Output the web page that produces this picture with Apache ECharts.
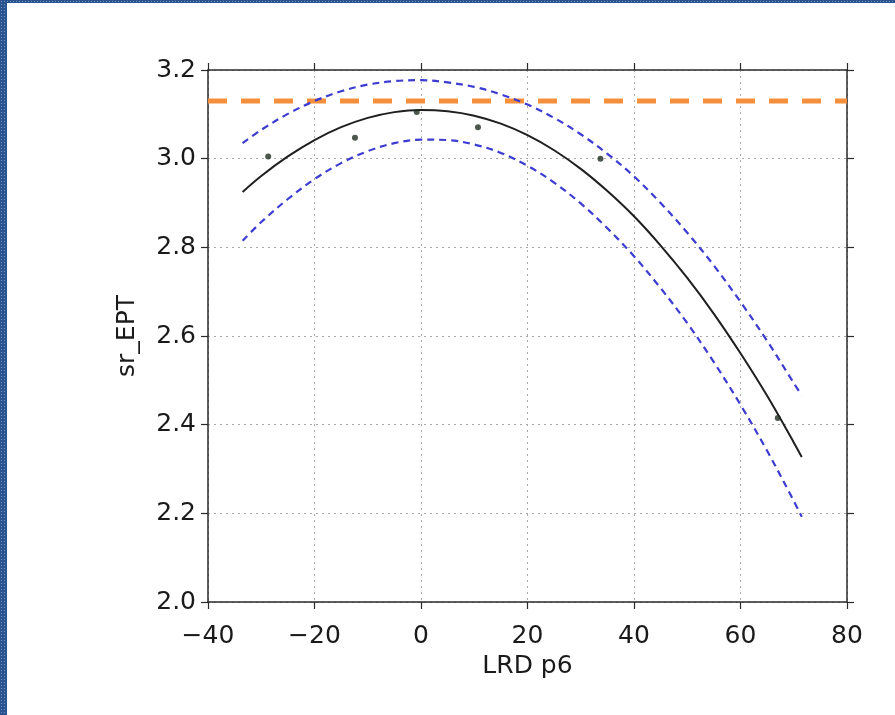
<!DOCTYPE html>
<html>
<head>
<meta charset="utf-8">
<script src="https://cdn.jsdelivr.net/npm/echarts@6/dist/echarts.min.js"></script>
<style>
  html, body { margin: 0; padding: 0; background: #fff; }
  #chart { position: absolute; left: 0; top: 0; width: 895px; height: 715px; }
  .bl { position: absolute; left: 0; top: 0; width: 7px; height: 715px;
        background: #2a5390;
        background-image: radial-gradient(#6f8fbf 0.6px, transparent 0.8px);
        background-size: 3px 3px; }
  .bt { position: absolute; left: 0; top: 0; width: 895px; height: 3px;
        background: #2a5390;
        background-image: radial-gradient(#6f8fbf 0.6px, transparent 0.8px);
        background-size: 3px 3px; }
</style>
</head>
<body>
<div id="chart"></div>
<div class="bl"></div>
<div class="bt"></div>
<script>
// ---- data ----
const curveX = [-33.5, -30, -25, -20, -15, -10, -5, 0, 5, 10, 15, 20, 25, 30, 35, 40, 45, 50, 55, 60, 65, 70, 71.5];
const fitY   = [2.925, 2.961, 3.005, 3.042, 3.071, 3.092, 3.105, 3.110, 3.107, 3.097, 3.079, 3.053, 3.019, 2.977, 2.927, 2.870, 2.804, 2.731, 2.650, 2.561, 2.465, 2.360, 2.327];
const upperY = [3.035, 3.065, 3.101, 3.130, 3.152, 3.167, 3.175, 3.177, 3.172, 3.162, 3.145, 3.122, 3.092, 3.055, 3.011, 2.960, 2.900, 2.833, 2.759, 2.677, 2.589, 2.494, 2.466];
const lowerY = [2.815, 2.857, 2.909, 2.954, 2.990, 3.017, 3.035, 3.043, 3.042, 3.032, 3.013, 2.984, 2.946, 2.899, 2.843, 2.780, 2.708, 2.629, 2.541, 2.445, 2.341, 2.228, 2.192];
const pointX = [-28.7, -12.4, -0.8, 10.7, 33.7, 67.0];
const pointY = [3.005, 3.047, 3.105, 3.071, 3.000, 2.415];
const refY = 3.13;
const xTicks = [-40, -20, 0, 20, 40, 60, 80];
const yTicks = [2.0, 2.2, 2.4, 2.6, 2.8, 3.0, 3.2];
const xName = 'LRD p6';
const yName = 'sr_EPT';

const zip = (a, b) => a.map((v, i) => [v, b[i]]);
const FONT = 'DejaVu Sans';
const AX = '#2a2a2a';

const chart = echarts.init(document.getElementById('chart'), null, { renderer: 'canvas' });

const baseX = {
  type: 'value', min: xTicks[0], max: xTicks[xTicks.length - 1], interval: 20,
  axisLine: { show: true, onZero: false, lineStyle: { color: AX, width: 1.5 } },
  axisTick: { show: true, inside: false, length: 7, lineStyle: { color: AX, width: 1.2 } },
  splitLine: { show: false }
};
const baseY = {
  type: 'value', min: yTicks[0], max: yTicks[yTicks.length - 1], interval: 0.2,
  axisLine: { show: true, onZero: false, lineStyle: { color: AX, width: 1.5 } },
  axisTick: { show: true, inside: false, length: 7, lineStyle: { color: AX, width: 1.2 } },
  splitLine: { show: false }
};

chart.setOption({
  animation: false,
  backgroundColor: '#ffffff',
  grid: { left: 208, right: 48, top: 70, bottom: 113, containLabel: false },
  xAxis: [
    Object.assign({}, baseX, {
      position: 'bottom',
      name: xName, nameLocation: 'middle', nameGap: 50,
      nameTextStyle: { fontFamily: FONT, fontSize: 25, color: '#1a1a1a' },
      axisLabel: { show: true, margin: 22, fontFamily: FONT, fontSize: 25, color: '#1a1a1a',
        formatter: v => (v < 0 ? '\u2212' + Math.abs(v) : String(v)) },
      splitLine: { show: true, lineStyle: { color: '#a8a8a8', width: 1, type: [2, 4] } }
    }),
    Object.assign({}, baseX, { position: 'top', axisLabel: { show: false } })
  ],
  yAxis: [
    Object.assign({}, baseY, {
      position: 'left',
      name: yName, nameLocation: 'middle', nameGap: 68, nameRotate: 90,
      nameTextStyle: { fontFamily: FONT, fontSize: 25, color: '#1a1a1a' },
      axisLabel: { show: true, margin: 12, fontFamily: FONT, fontSize: 25, color: '#1a1a1a',
        formatter: v => v.toFixed(1) },
      splitLine: { show: true, lineStyle: { color: '#a8a8a8', width: 1, type: [2, 4] } }
    }),
    Object.assign({}, baseY, { position: 'right', axisLabel: { show: false } })
  ],
  series: [
    {
      type: 'line', name: 'ref', data: [[xTicks[0], refY], [xTicks[xTicks.length - 1], refY]],
      symbol: 'none', silent: true, z: 3,
      lineStyle: { color: '#f58f3c', width: 5, type: [19, 14] }
    },
    {
      type: 'line', name: 'upper', data: zip(curveX, upperY), symbol: 'none', smooth: 0.35,
      lineStyle: { color: '#3c3cd2', width: 2.2, type: [7, 5] }, z: 4
    },
    {
      type: 'line', name: 'lower', data: zip(curveX, lowerY), symbol: 'none', smooth: 0.35,
      lineStyle: { color: '#3c3cd2', width: 2.2, type: [7, 5] }, z: 4
    },
    {
      type: 'line', name: 'fit', data: zip(curveX, fitY), symbol: 'none', smooth: 0.35,
      lineStyle: { color: '#1f1f1f', width: 2 }, z: 5
    },
    {
      type: 'scatter', name: 'obs', data: zip(pointX, pointY), symbol: 'circle', symbolSize: 6,
      itemStyle: { color: '#1f2e22' }, z: 6
    }
  ]
});
</script>
</body>
</html>
